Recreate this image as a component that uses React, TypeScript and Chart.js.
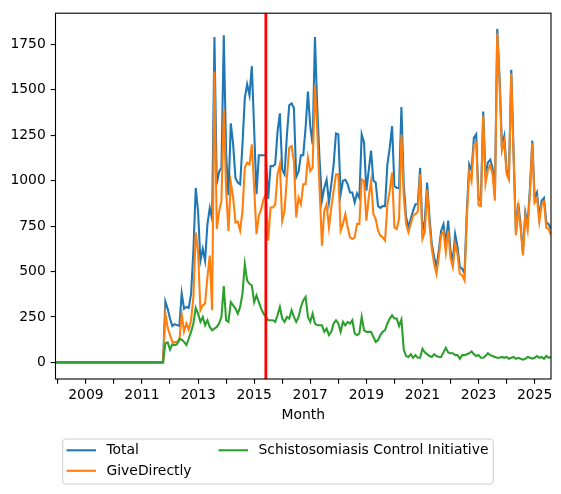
import React, { useEffect, useRef } from "react";
import { Chart, registerables } from "chart.js";

Chart.register(...registerables);

// ---------- data (monthly, first point = Dec 2007, last = Aug 2025) ----------
const FIRST_YEAR = 2007;
const FIRST_MONTH = 12;

const SERIES_NAMES = ["Total", "GiveDirectly", "Schistosomiasis Control Initiative"];

const total = [
  0,
  0, 0, 0, 0, 0, 0, 0, 0, 0, 0, 0, 0,
  0, 0, 0, 0, 0, 0, 0, 0, 0, 0, 0, 0,
  0, 0, 0, 0, 0, 0, 0, 0, 0, 0, 0, 0,
  0, 0, 0, 0, 0, 0, 0, 0, 0, 0, 335, 295,
  240, 200, 210, 205, 200, 380, 295, 305, 300, 375, 615, 960,
  830, 560, 625, 560, 760, 850, 790, 1790, 980, 1050, 1070, 1800,
  1150, 920, 1315, 1200, 1015, 990, 980, 1200, 1455, 1530, 1470, 1630,
  1280, 925, 1140, 1140, 1140, 1140, 900, 1080, 1080, 1090, 1270, 1370,
  1060, 1035, 1250, 1415, 1425, 1400, 1020, 1050, 1140, 1140, 1290, 1490,
  1300, 1200, 1790, 1400, 1110, 890, 960, 1005, 880, 980, 1090, 1260,
  1255, 925, 1000, 1005, 980, 935, 935, 880, 930, 905, 1255, 1210,
  945, 1055, 1165, 1000, 990, 860, 850, 860, 860, 1090, 1180, 1300,
  970, 960, 960, 1405, 980, 800, 745, 790, 835, 870, 870, 1070,
  725, 780, 990, 800, 650, 580, 525, 615, 725, 760, 650, 780,
  615, 560, 705, 635, 525, 515, 490, 835, 1090, 1055, 1235, 1255,
  900, 890, 1380, 1015, 1100, 1115, 1070, 915, 1835, 1565, 1190, 1245,
  1060, 1025, 1610, 1150, 715, 875, 760, 600, 825, 760, 960, 1220,
  905, 935, 800, 890, 905, 770, 760, 735,
];

const giveDirectly = [
  0,
  0, 0, 0, 0, 0, 0, 0, 0, 0, 0, 0, 0,
  0, 0, 0, 0, 0, 0, 0, 0, 0, 0, 0, 0,
  0, 0, 0, 0, 0, 0, 0, 0, 0, 0, 0, 0,
  0, 0, 0, 0, 0, 0, 0, 0, 0, 0, 270, 190,
  150, 113, 110, 113, 120, 265, 170, 214, 180, 232, 360, 715,
  606, 287, 314, 323, 469, 588, 287, 1600, 734, 830, 890, 1390,
  950, 722, 989, 907, 770, 775, 725, 834, 1071, 1099, 1090, 1199,
  962, 706, 807, 843, 898, 925, 670, 852, 852, 870, 1035, 1090,
  779, 834, 1016, 1181, 1190, 1108, 797, 907, 870, 980, 980, 1126,
  1053, 1071, 1528, 1272, 950, 642, 834, 870, 743, 852, 944, 1035,
  1035, 725, 761, 816, 743, 688, 679, 688, 761, 761, 1007, 998,
  779, 907, 998, 816, 788, 725, 697, 688, 670, 870, 944, 1044,
  743, 734, 790, 1254, 915, 761, 716, 761, 807, 816, 830, 1035,
  680, 716, 950, 761, 624, 542, 487, 579, 700, 720, 606, 725,
  575, 524, 652, 597, 487, 480, 451, 800, 1050, 998, 1199, 1208,
  865, 860, 1360, 985, 1060, 1085, 1035, 890, 1810, 1537, 1165, 1215,
  1035, 1005, 1590, 1130, 700, 850, 740, 588, 807, 730, 940, 1205,
  880, 905, 775, 865, 885, 740, 735, 700,
];

const sci = [
  0,
  0, 0, 0, 0, 0, 0, 0, 0, 0, 0, 0, 0,
  0, 0, 0, 0, 0, 0, 0, 0, 0, 0, 0, 0,
  0, 0, 0, 0, 0, 0, 0, 0, 0, 0, 0, 0,
  0, 0, 0, 0, 0, 0, 0, 0, 0, 0, 105, 110,
  70, 100, 95, 100, 130, 125, 113, 95, 130, 168, 214, 300,
  268, 223, 250, 204, 232, 195, 177, 186, 195, 214, 250, 420,
  232, 223, 332, 314, 296, 268, 305, 378, 540, 450, 432, 423,
  332, 369, 332, 296, 268, 250, 232, 232, 232, 223, 259, 305,
  241, 223, 250, 241, 287, 250, 223, 250, 305, 341, 360, 250,
  223, 268, 214, 204, 204, 204, 168, 186, 150, 168, 214, 232,
  214, 168, 223, 204, 223, 214, 232, 159, 150, 159, 250, 177,
  168, 168, 168, 141, 113, 122, 150, 168, 177, 214, 241, 259,
  241, 241, 200, 235, 70, 35, 30, 45, 25, 40, 25, 25,
  75, 55, 45, 35, 30, 45, 35, 30, 30, 55, 80, 55,
  50, 50, 40, 40, 20, 40, 40, 45, 50, 60, 45, 35,
  40, 25, 25, 35, 50, 40, 35, 30, 25, 25, 30, 25,
  30, 20, 25, 30, 20, 25, 20, 15, 20, 30, 25, 20,
  25, 35, 25, 30, 20, 35, 25, 30,
];

const TICK_YEARS = [2008, 2009, 2010, 2011, 2012, 2013, 2014, 2015, 2016, 2017, 2018, 2019, 2020, 2021, 2022, 2023, 2024, 2025];
const LABELED_YEARS = [2009, 2011, 2013, 2015, 2017, 2019, 2021, 2023, 2025];
const Y_TICKS = [0, 250, 500, 750, 1000, 1250, 1500, 1750];
const MARKER = { year: 2015, month: 6 };
const X_TITLE = "Month";

// ---------- helpers ----------
const BASE_YEAR = 2008;
const monthIndex = (year: number, month: number) => (year - BASE_YEAR) * 12 + (month - 1);
const FIRST_X = monthIndex(FIRST_YEAR, FIRST_MONTH);
const LAST_X = FIRST_X + total.length - 1;

const COLORS = ["#1f77b4", "#ff7f0e", "#2ca02c"];
const FONT = "'DejaVu Sans', 'Liberation Sans', sans-serif";
const FS = 13.9;

const toPoints = (arr: number[]) => arr.map((v, i) => ({ x: FIRST_X + i, y: v }));

const framePlugin = {
  id: "frame",
  afterDatasetsDraw(chart: any) {
    const { ctx, chartArea: a, scales } = chart;
    ctx.save();
    // vertical marker line
    const mx = scales.x.getPixelForValue(monthIndex(MARKER.year, MARKER.month));
    ctx.strokeStyle = "#ff0000";
    ctx.lineWidth = 2.78;
    ctx.beginPath();
    ctx.moveTo(mx, a.top);
    ctx.lineTo(mx, a.bottom);
    ctx.stroke();
    // spines
    ctx.strokeStyle = "#000";
    ctx.lineWidth = 1.1;
    ctx.strokeRect(a.left, a.top, a.right - a.left, a.bottom - a.top);
    ctx.restore();
  },
};

const legendPlugin = {
  id: "mplLegend",
  afterDraw(chart: any) {
    const { ctx } = chart;
    ctx.save();
    const L = 62.7, T = 439, R = 493.3, B = 484;
    ctx.beginPath();
    (ctx as any).roundRect(L, T, R - L, B - T, 3);
    ctx.fillStyle = "rgba(255,255,255,0.8)";
    ctx.fill();
    ctx.strokeStyle = "#cccccc";
    ctx.lineWidth = 1;
    ctx.stroke();
    const items = [
      { x: 66.5, y: 450.3, i: 0 },
      { x: 66.5, y: 470.8, i: 1 },
      { x: 218.5, y: 450.3, i: 2 },
    ];
    ctx.font = `${FS}px ${FONT}`;
    ctx.textBaseline = "middle";
    ctx.textAlign = "left";
    for (const it of items) {
      ctx.strokeStyle = COLORS[it.i];
      ctx.lineWidth = 2.08;
      ctx.beginPath();
      ctx.moveTo(it.x, it.y);
      ctx.lineTo(it.x + 29.5, it.y);
      ctx.stroke();
      ctx.fillStyle = "#000";
      ctx.fillText(SERIES_NAMES[it.i], it.x + 40, it.y + 0.5);
    }
    ctx.restore();
  },
};

export default function App() {
  const ref = useRef<HTMLCanvasElement>(null);
  useEffect(() => {
    document.body.style.margin = "0";
    const canvas = ref.current!;
    Chart.defaults.font.family = FONT;
    Chart.defaults.font.size = FS;
    Chart.defaults.color = "#000";
    const series = [total, giveDirectly, sci];
    const chart = new Chart(canvas, {
      type: "line",
      data: {
        datasets: series.map((arr, i) => ({
          label: SERIES_NAMES[i],
          data: toPoints(arr),
          borderColor: COLORS[i],
          backgroundColor: COLORS[i],
          borderWidth: 2.08,
          pointRadius: 0,
          tension: 0,
          fill: false,
          order: 3 - i,
        })),
      },
      options: {
        animation: false,
        responsive: false,
        devicePixelRatio: 1,
        layout: { padding: { top: 11, right: 10, left: 0, bottom: 0 } },
        plugins: { legend: { display: false }, tooltip: { enabled: false } },
        scales: {
          x: {
            type: "linear",
            min: FIRST_X,
            max: LAST_X,
            afterBuildTicks: (s: any) => {
              s.ticks = TICK_YEARS.map((y) => ({ value: monthIndex(y, 1) }));
            },
            afterFit: (s: any) => {
              s.height = 115;
            },
            ticks: {
              autoSkip: false,
              maxRotation: 0,
              minRotation: 0,
              padding: 3,
              color: "#000",
              font: { size: FS, family: FONT },
              callback: (v: any) => {
                const yr = BASE_YEAR + Number(v) / 12;
                return LABELED_YEARS.includes(yr) ? String(yr) : "";
              },
            },
            grid: {
              drawOnChartArea: false,
              drawTicks: true,
              tickLength: 4.86,
              tickColor: "#000",
              tickWidth: 1.1,
              color: "#000",
              lineWidth: 1.1,
            },
            border: { display: false },
            title: {
              display: true,
              text: X_TITLE,
              color: "#000",
              font: { size: FS, family: FONT },
              padding: { top: 0, bottom: 70.7 },
            },
          },
          y: {
            type: "linear",
            min: -91.5,
            max: 1921.5,
            afterBuildTicks: (s: any) => {
              s.ticks = Y_TICKS.map((v) => ({ value: v }));
            },
            afterFit: (s: any) => {
              s.width = 55.5;
            },
            ticks: {
              padding: 4.86,
              color: "#000",
              font: { size: FS, family: FONT },
              callback: (v: any) => String(v),
            },
            grid: {
              drawOnChartArea: false,
              drawTicks: true,
              tickLength: 4.86,
              tickColor: "#000",
              tickWidth: 1.1,
              color: "#000",
              lineWidth: 1.1,
            },
            border: { display: false },
          },
        },
      },
      plugins: [framePlugin, legendPlugin],
    } as any);
    return () => chart.destroy();
  }, []);
  return (
    <div style={{ width: 561, height: 494, background: "#fff" }}>
      <canvas ref={ref} width={561} height={494} style={{ display: "block" }} />
    </div>
  );
}
